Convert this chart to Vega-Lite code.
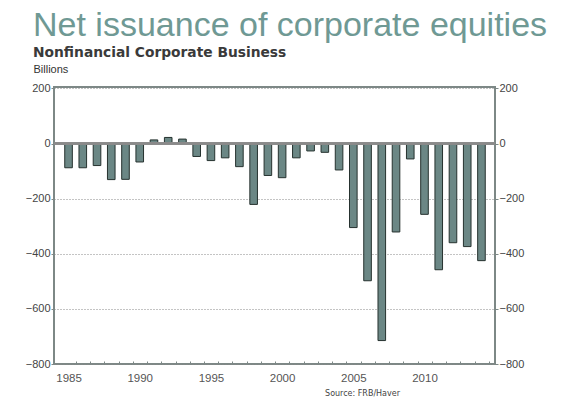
{
  "$schema": "https://vega.github.io/schema/vega-lite/v6.json",
  "width": 441,
  "height": 277,
  "autosize": {"type": "none"},
  "padding": {"left": 54, "top": 87, "right": 74, "bottom": 34},
  "background": "white",
  "title": {
    "text": "Net issuance of corporate equities",
    "subtitle": "Nonfinancial Corporate Business",
    "anchor": "start",
    "frame": "group",
    "dx": -21,
    "dy": 1,
    "font": "Liberation Sans",
    "fontSize": 34,
    "fontWeight": "normal",
    "color": "#6f9994",
    "subtitleFont": "DejaVu Sans",
    "subtitleFontWeight": "bold",
    "subtitleFontSize": 13.8,
    "subtitleColor": "#3a3a3a",
    "subtitlePadding": 3
  },
  "config": {
    "view": {"stroke": "#7d8886", "strokeWidth": 2},
    "axis": {"labelFont": "Liberation Sans", "labelFontSize": 11, "labelColor": "#444444", "tickColor": "#7d8886"}
  },
  "data": {
    "values": [
      {"year": 1985, "value": -88}, {"year": 1986, "value": -88}, {"year": 1987, "value": -80},
      {"year": 1988, "value": -131}, {"year": 1989, "value": -130}, {"year": 1990, "value": -67},
      {"year": 1991, "value": 13}, {"year": 1992, "value": 22}, {"year": 1993, "value": 16},
      {"year": 1994, "value": -47}, {"year": 1995, "value": -62}, {"year": 1996, "value": -52},
      {"year": 1997, "value": -84}, {"year": 1998, "value": -221}, {"year": 1999, "value": -116},
      {"year": 2000, "value": -124}, {"year": 2001, "value": -52}, {"year": 2002, "value": -27},
      {"year": 2003, "value": -32}, {"year": 2004, "value": -96}, {"year": 2005, "value": -305},
      {"year": 2006, "value": -498}, {"year": 2007, "value": -715}, {"year": 2008, "value": -321},
      {"year": 2009, "value": -56}, {"year": 2010, "value": -257}, {"year": 2011, "value": -458},
      {"year": 2012, "value": -360}, {"year": 2013, "value": -374}, {"year": 2014, "value": -425}
    ]
  },
  "layer": [
    {
      "mark": {"type": "bar", "width": 7.6, "fill": "#6b8785", "stroke": "#26322f", "strokeWidth": 1},
      "encoding": {
        "x": {
          "field": "year",
          "type": "quantitative",
          "scale": {"domain": [1984.33, 2014.6], "nice": false, "zero": false},
          "axis": {
            "values": [1985,1986,1987,1988,1989,1990,1991,1992,1993,1994,1995,1996,1997,1998,1999,2000,2001,2002,2003,2004,2005,2006,2007,2008,2009,2010,2011,2012,2013,2014],
            "format": "d",
            "labelExpr": "datum.value % 5 == 0 ? datum.label : ''",
            "labelColor": "#555555",
            "labelFontSize": 11.5,
            "tickSize": -3,
            "tickOffset": 7.3,
            "labelOffset": -7.3,
            "labelPadding": 11,
            "grid": false,
            "domain": false,
            "title": "Source: FRB/Haver",
            "titleFont": "DejaVu Sans",
            "titleFontSize": 8,
            "titleFontWeight": "normal",
            "titleColor": "#444444",
            "titleX": 308,
            "titleY": 31,
            "titleAlign": "center",
            "titleBaseline": "alphabetic"
          }
        },
        "y": {
          "field": "value",
          "type": "quantitative",
          "scale": {"domain": [-800, 205], "nice": false},
          "axis": {
            "values": [-800, -600, -400, -200, 0, 200],
            "grid": true,
            "gridDash": [1, 2],
            "gridColor": "#888888",
            "tickSize": 3,
            "labelPadding": 1,
            "domain": false,
            "title": "Billions",
            "titleFont": "Liberation Sans",
            "titleFontSize": 11,
            "titleFontWeight": "normal",
            "titleColor": "#333333",
            "titleAngle": 0,
            "titleAlign": "left",
            "titleBaseline": "alphabetic",
            "titleX": -21,
            "titleY": -15
          }
        }
      }
    },
    {
      "mark": {"type": "rule", "color": "#8a8a8a", "strokeWidth": 1.5},
      "encoding": {
        "y": {
          "datum": 0,
          "type": "quantitative",
          "scale": {"domain": [-800, 205], "nice": false},
          "axis": {
            "orient": "right",
            "values": [-800, -600, -400, -200, 0, 200],
            "grid": false,
            "tickSize": 3,
            "labelPadding": 1,
            "domain": false,
            "title": null
          }
        }
      }
    }
  ],
  "resolve": {"scale": {"y": "independent"}}
}
